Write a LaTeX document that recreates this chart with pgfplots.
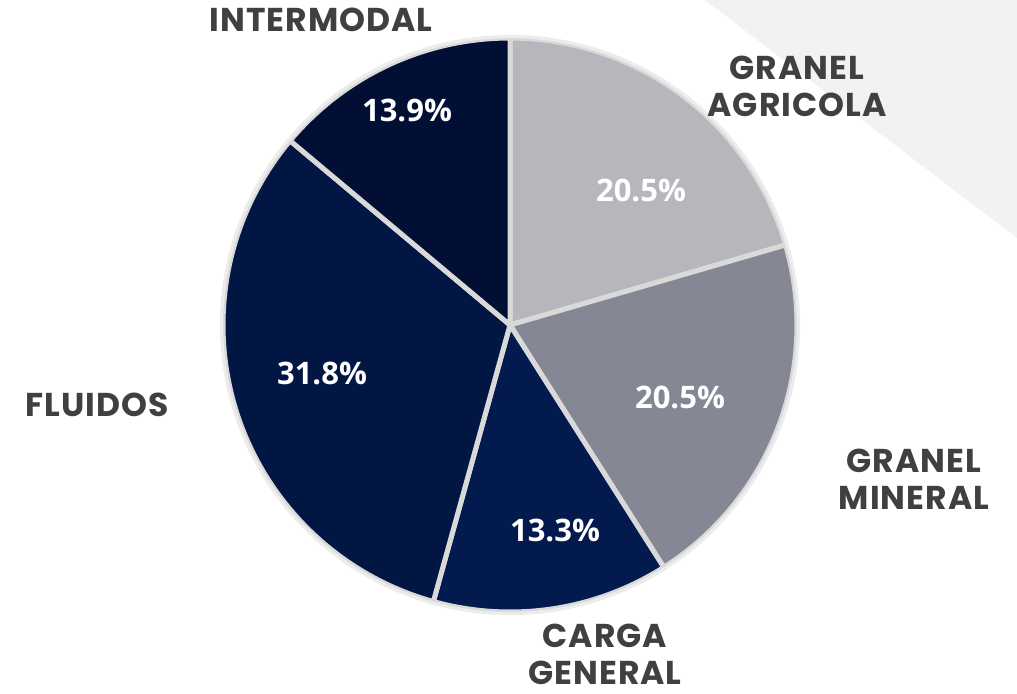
\documentclass[border=0pt]{standalone}
\usepackage{pgfplots}
\pgfplotsset{compat=1.18}
\usepackage{fontspec}
\setmainfont{Open Sans}
\newfontfamily\catfont[LetterSpace=3]{Poppins}

\definecolor{cagri}{HTML}{B6B7BD}
\definecolor{cmin}{HTML}{858794}
\definecolor{ccarga}{HTML}{021A4E}
\definecolor{cflu}{HTML}{021643}
\definecolor{cinter}{HTML}{020F35}
\definecolor{sepc}{HTML}{D9D9D9}
\definecolor{rimc}{HTML}{ECECEC}
\definecolor{labc}{HTML}{404040}
\definecolor{bgtri}{HTML}{F2F2F2}

% shares in percent, clockwise from 12 o'clock
\def\pAgri{20.5}
\def\pMin{20.5}
\def\pCarga{13.3}
\def\pFlu{31.8}
\def\pInter{13.9}

\begin{document}
\begin{tikzpicture}
\pgfmathsetmacro\aO{90}
\pgfmathsetmacro\aA{\aO-3.6*\pAgri}
\pgfmathsetmacro\aB{\aA-3.6*\pMin}
\pgfmathsetmacro\aC{\aB-3.6*\pCarga}
\pgfmathsetmacro\aD{\aC-3.6*\pFlu}
\pgfmathsetmacro\aE{\aD-3.6*\pInter}
\begin{axis}[
    scale only axis,
    width=508.5pt, height=346.5pt,
    xmin=0, xmax=1017, ymin=0, ymax=693,
    hide axis,
    clip=false,
]
% background
\addplot[fill=white, draw=none] coordinates {(0,0) (1017,0) (1017,693) (0,693)} -- cycle;
\addplot[fill=bgtri, draw=none] coordinates {(705,693) (1017,693) (1017,455)} -- cycle;

% slices
\addplot[fill=cagri, draw=sepc, line width=2.5pt, line join=round, domain=\aA:\aO, samples=80, variable=\t]
    ({510+287*cos(\t)}, {368+287*sin(\t)}) -- (axis cs:510,368) -- cycle;
\addplot[fill=cmin, draw=sepc, line width=2.5pt, line join=round, domain=\aB:\aA, samples=80, variable=\t]
    ({510+287*cos(\t)}, {368+287*sin(\t)}) -- (axis cs:510,368) -- cycle;
\addplot[fill=ccarga, draw=sepc, line width=2.5pt, line join=round, domain=\aC:\aB, samples=80, variable=\t]
    ({510+287*cos(\t)}, {368+287*sin(\t)}) -- (axis cs:510,368) -- cycle;
\addplot[fill=cflu, draw=sepc, line width=2.5pt, line join=round, domain=\aD:\aC, samples=80, variable=\t]
    ({510+287*cos(\t)}, {368+287*sin(\t)}) -- (axis cs:510,368) -- cycle;
\addplot[fill=cinter, draw=sepc, line width=2.5pt, line join=round, domain=\aE:\aD, samples=80, variable=\t]
    ({510+287*cos(\t)}, {368+287*sin(\t)}) -- (axis cs:510,368) -- cycle;
% soft rim
\addplot[draw=rimc, line width=1.6pt, domain=-270:90, samples=200, variable=\t]
    ({510+288.5*cos(\t)}, {368+288.5*sin(\t)});

% value labels
\tikzset{pct/.style={text=white, font=\fontsize{15.5}{18}\selectfont\bfseries}}
\node[pct] at (axis cs:641,503) {20.5\%};
\node[pct] at (axis cs:680,296) {20.5\%};
\node[pct] at (axis cs:555,163) {13.3\%};
\node[pct] at (axis cs:322,320) {31.8\%};
\node[pct] at (axis cs:407,583) {13.9\%};

% category labels
\tikzset{cat/.style={text=labc, align=center, inner sep=1pt, font=\catfont\fontsize{16.5}{18.5}\selectfont\bfseries}}
\node[cat] at (axis cs:321,673) {INTERMODAL};
\node[cat] at (axis cs:797,607) {GRANEL\\AGRICOLA};
\node[cat] at (axis cs:97,288) {FLUIDOS};
\node[cat] at (axis cs:914,214) {GRANEL\\MINERAL};
\node[cat] at (axis cs:605,39) {CARGA\\GENERAL};
\end{axis}
\end{tikzpicture}
\end{document}
